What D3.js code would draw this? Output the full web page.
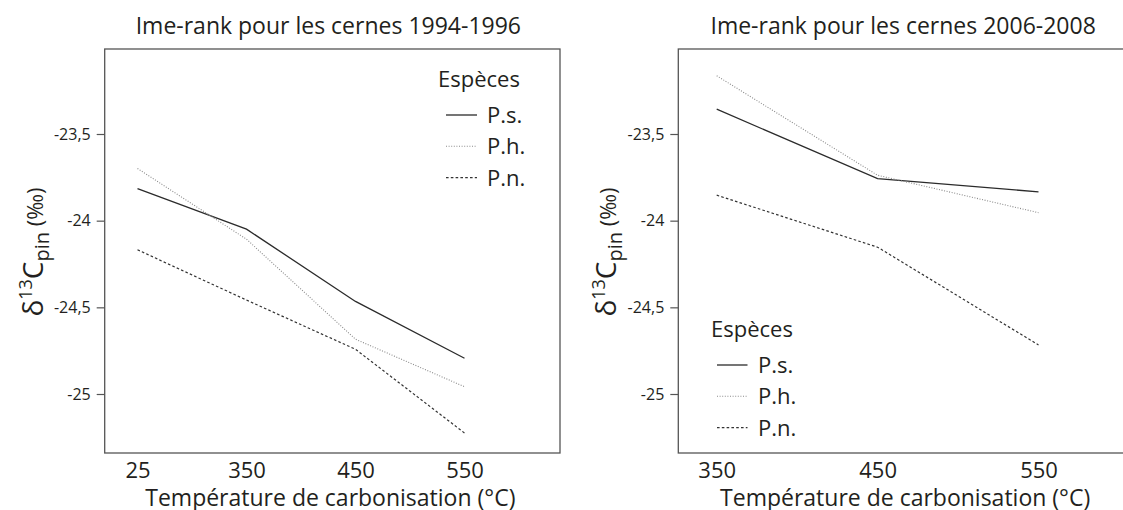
<!DOCTYPE html>
<html><head><meta charset="utf-8">
<script src="https://cdn.jsdelivr.net/npm/d3@7"></script>
<style>
html,body{margin:0;padding:0;background:#fff;}
svg{display:block;font-family:"Open Sans",sans-serif;}
</style></head>
<body>
<svg id="chart" width="1123" height="510"></svg>
<script>
// ---- data ----
const categoriesA = ["25", "350", "450", "550"];
const psA = [-23.815, -24.049, -24.466, -24.794];
const phA = [-23.699, -24.107, -24.684, -24.958];
const pnA = [-24.168, -24.458, -24.742, -25.225];

const categoriesB = ["350", "450", "550"];
const psB = [-23.357, -23.757, -23.834];
const phB = [-23.164, -23.738, -23.954];
const pnB = [-23.853, -24.153, -24.717];

const species = ["P.s.", "P.h.", "P.n."];
const yTicks = [-23.5, -24, -24.5, -25];
const yTickLabels = ["-23,5", "-24", "-24,5", "-25"];
const titleA = "Ime-rank pour les cernes 1994-1996";
const titleB = "Ime-rank pour les cernes 2006-2008";
const legendTitle = "Espèces";
const xTitle = "Température de carbonisation (°C)";

// ---- layout ----
const svg = d3.select("#chart");
const textCol = "#231f20";
const styles = [
  {stroke: "#2b2b2b", width: 1.3, dash: null},
  {stroke: "#8a8a8a", width: 1.1, dash: "1,1.6"},
  {stroke: "#333", width: 1.2, dash: "2.6,2.2"}
];

const y = d3.scaleLinear().domain([-25, -23.5]).range([394, 134]);
const frameTop = 49, frameBottom = 453;

function panel(opt) {
  const g = svg.append("g");
  const x = d3.scalePoint().domain(opt.cats).range(opt.xRange);
  const series = [opt.ps, opt.ph, opt.pn];

  // frame
  g.append("rect")
    .attr("x", opt.frameL).attr("y", frameTop)
    .attr("width", opt.frameR - opt.frameL).attr("height", frameBottom - frameTop)
    .attr("fill", "none").attr("stroke", "#555").attr("stroke-width", 1.3);

  // y axis ticks
  const yAxis = d3.axisLeft(y).tickValues(yTicks)
    .tickFormat((d, i) => yTickLabels[i]).tickSize(8).tickPadding(6);
  const ya = g.append("g").attr("transform", `translate(${opt.frameL},0)`).call(yAxis);
  ya.select(".domain").remove();
  ya.selectAll("line").attr("stroke", "#555").attr("stroke-width", 1.2);
  ya.selectAll("text").attr("fill", textCol).style("font-size", "16px")
    .style("font-family", '"Open Sans",sans-serif');

  // x axis labels
  const xAxis = d3.axisBottom(x).tickSize(0).tickPadding(0);
  const xa = g.append("g").attr("transform", `translate(0,${frameBottom})`).call(xAxis);
  xa.select(".domain").remove();
  xa.selectAll("text").attr("fill", textCol).attr("dy", null).attr("y", 25)
    .style("font-size", "22px").style("font-family", '"Open Sans",sans-serif');

  // lines
  const line = d3.line().x((d, i) => x(opt.cats[i])).y(d => y(d));
  series.forEach((s, k) => {
    g.append("path").datum(s).attr("d", line)
      .attr("fill", "none").attr("stroke", styles[k].stroke)
      .attr("stroke-width", styles[k].width)
      .attr("stroke-dasharray", styles[k].dash);
  });

  // title
  g.append("text").attr("x", (opt.frameL + opt.frameR) / 2 - 4).attr("y", 34)
    .attr("text-anchor", "middle").attr("fill", textCol).style("font-size", "23px")
    .text(opt.title);

  // x title
  g.append("text").attr("x", (opt.frameL + opt.frameR) / 2 - 2).attr("y", 506)
    .attr("text-anchor", "middle").attr("fill", textCol).style("font-size", "23px")
    .text(xTitle);

  // y title
  const yt = g.append("text")
    .attr("transform", `translate(${opt.frameL - 62},252) rotate(-90)`)
    .attr("text-anchor", "middle").attr("fill", textCol).style("font-size", "28px");
  yt.append("tspan").text("δ");
  yt.append("tspan").attr("dy", -11).style("font-size", "18px").text("13");
  yt.append("tspan").attr("dy", 11).text("C");
  yt.append("tspan").attr("dy", 6).style("font-size", "20px").text("pin");
  yt.append("tspan").attr("dy", -6).style("font-size", "22px").text(" (‰)");

  // legend
  const lg = g.append("g").attr("transform", `translate(${opt.legX},${opt.legY})`);
  lg.append("text").attr("x", 0).attr("y", 0).attr("fill", textCol)
    .style("font-size", "22px").text(legendTitle);
  species.forEach((sp, k) => {
    const yy = 28 + k * 31.3;
    lg.append("line").attr("x1", opt.legLine[0]).attr("x2", opt.legLine[1])
      .attr("y1", yy).attr("y2", yy)
      .attr("stroke", styles[k].stroke).attr("stroke-width", styles[k].width)
      .attr("stroke-dasharray", styles[k].dash);
    lg.append("text").attr("x", opt.legText).attr("y", yy + 8).attr("fill", textCol)
      .style("font-size", "22px").text(sp);
  });
}

panel({
  cats: categoriesA, ps: psA, ph: phA, pn: pnA,
  xRange: [137.5, 464.5], frameL: 104.7, frameR: 560,
  title: titleA, legX: 438, legY: 87, legLine: [8, 39], legText: 49
});
panel({
  cats: categoriesB, ps: psB, ph: phB, pn: pnB,
  xRange: [716.7, 1038.5], frameL: 678.3, frameR: 1136,
  title: titleB, legX: 711, legY: 337, legLine: [6, 36.5], legText: 47
});
</script>
</body></html>
